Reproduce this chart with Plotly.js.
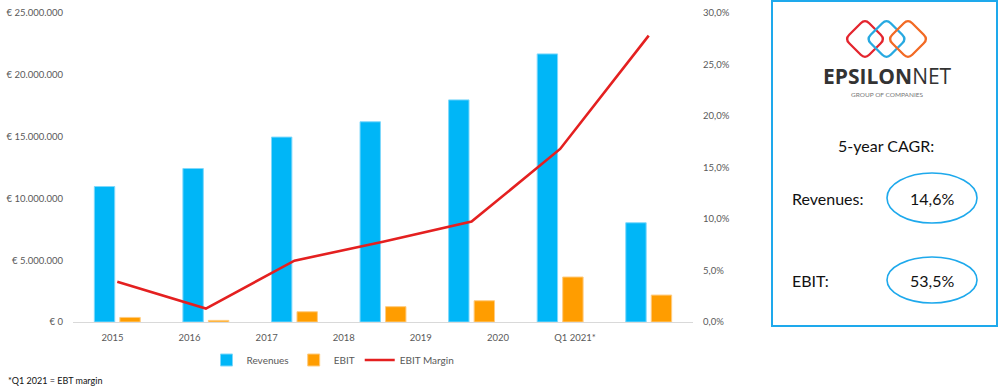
<!DOCTYPE html>
<html>
<head>
<meta charset="utf-8">
<script src="https://cdn.plot.ly/plotly-3.0.1.min.js"></script>
<style>html,body{margin:0;padding:0;background:#fff;}#chart{width:1000px;height:392px;}</style>
</head>
<body>
<div id="chart"></div>
<script>
// ---- data ----
const categories = ["2015", "2016", "2017", "2018", "2019", "2020", "Q1 2021*"];
const revenues = [10960000, 12420000, 14960000, 16200000, 17970000, 21690000, 8030000];
const ebit = [370000, 130000, 830000, 1240000, 1720000, 3640000, 2180000];
const ebitMargin = [3.9, 1.3, 5.95, 7.8, 9.75, 16.8, 27.8];
const leftTickVals = [0, 5000000, 10000000, 15000000, 20000000, 25000000];
const leftTickText = ["€ 0", "€ 5.000.000", "€ 10.000.000", "€ 15.000.000", "€ 20.000.000", "€ 25.000.000"];
const rightTickVals = [0, 5, 10, 15, 20, 25, 30];
const rightTickText = ["0,0%", "5,0%", "10,0%", "15,0%", "20,0%", "25,0%", "30,0%"];
const cagrLabels = ["Revenues:", "EBIT:"];
const cagrValues = ["14,6%", "53,5%"];

// ---- pixel helpers (plot area 73..693 x, 13..322 y) ----
const L = 73, R = 693, T = 13, B = 322;
const X = px => (px - L) / (R - L);
const Y = py => (B - py) / (B - T);

const FONT = "Lato, 'Liberation Sans', sans-serif";
const GRAY = "#595959";
const TICK = 9.5;

function diamondPath(cx, cy, h, d) {
  const v = [[cx, cy - h], [cx + h, cy], [cx, cy + h], [cx - h, cy]];
  let p = "";
  for (let i = 0; i < 4; i++) {
    const a = v[i], b = v[(i + 1) % 4], c = v[(i + 2) % 4];
    const len = Math.hypot(b[0] - a[0], b[1] - a[1]);
    const s = [a[0] + (b[0] - a[0]) * d / len, a[1] + (b[1] - a[1]) * d / len];
    const e = [b[0] - (b[0] - a[0]) * d / len, b[1] - (b[1] - a[1]) * d / len];
    const len2 = Math.hypot(c[0] - b[0], c[1] - b[1]);
    const n = [b[0] + (c[0] - b[0]) * d / len2, b[1] + (c[1] - b[1]) * d / len2];
    p += (i === 0 ? "M" : "L") + X(s[0]) + "," + Y(s[1]) + " L" + X(e[0]) + "," + Y(e[1]) +
         " Q" + X(b[0]) + "," + Y(b[1]) + " " + X(n[0]) + "," + Y(n[1]) + " ";
  }
  return p + "Z";
}

const traces = [
  {type: "bar", name: "Revenues", x: categories, y: revenues,
   marker: {color: "#00B6F7", line: {color: "#7fd8fb", width: 1}}, hoverinfo: "skip"},
  {type: "bar", name: "EBIT", x: categories, y: ebit,
   marker: {color: "#FF9D00", line: {color: "#ffcc80", width: 1}}, hoverinfo: "skip"},
  {type: "scatter", mode: "lines", name: "EBIT Margin", x: categories, y: ebitMargin, yaxis: "y2",
   line: {color: "#E42020", width: 2.6}, hoverinfo: "skip"},
  {type: "scatter", mode: "markers", x: [0, 6], y: [0, 0], xaxis: "x2", showlegend: false,
   marker: {opacity: 0}, hoverinfo: "skip"}
];

const shapes = [
  {type: "rect", xref: "paper", yref: "paper", x0: X(772), x1: X(997), y0: Y(1), y1: Y(326),
   line: {color: "#1EA9EC", width: 2}},
  {type: "path", xref: "paper", yref: "paper", path: diamondPath(865, 39, 20, 6), line: {color: "#E4252E", width: 2.3}},
  {type: "path", xref: "paper", yref: "paper", path: diamondPath(886.5, 39, 20, 6), line: {color: "#27A9E1", width: 2.3}},
  {type: "path", xref: "paper", yref: "paper", path: diamondPath(908, 39, 20, 6), line: {color: "#F26A24", width: 2.3}},
  {type: "circle", xref: "paper", yref: "paper", x0: X(887), x1: X(977), y0: Y(173), y1: Y(223),
   line: {color: "#1EA9EC", width: 1.6}},
  {type: "circle", xref: "paper", yref: "paper", x0: X(887), x1: X(977), y0: Y(257), y1: Y(303),
   line: {color: "#1EA9EC", width: 1.6}}
];

const ann = (px, py, text, size, color, xanchor, extra) => Object.assign({
  xref: "paper", yref: "paper", x: X(px), y: Y(py), text: text, showarrow: false,
  xanchor: xanchor || "center", yanchor: "middle", font: {family: FONT, size: size, color: color}
}, extra || {});

const annotations = [
  ann(887, 76, "<b>EPSILON</b>NET", 21, "#333333", "center", {font: {family: "'Open Sans', sans-serif", size: 21, color: "#333333"}}),
  ann(887, 95, "GROUP OF COMPANIES", 6.5, "#777777"),
  ann(886, 145, "5-year CAGR:", 16, "#111111"),
  ann(790, 198, cagrLabels[0], 16, "#111111", "left"),
  ann(932, 198, cagrValues[0], 16, "#111111"),
  ann(790, 280, cagrLabels[1], 16, "#111111", "left"),
  ann(932, 280, cagrValues[1], 16, "#111111"),
  ann(6, 380, "*Q1 2021 = EBT margin", 9, "#111111", "left")
];

const layout = {
  width: 1000, height: 392,
  margin: {l: L, r: 1000 - R, t: T, b: 392 - B, pad: 0},
  paper_bgcolor: "#ffffff", plot_bgcolor: "#ffffff",
  font: {family: FONT, size: TICK, color: GRAY},
  barmode: "group", bargap: 0.424, bargroupgap: 0.2,
  showlegend: true,
  legend: {orientation: "h", x: X(333), y: Y(360), xanchor: "center", yanchor: "middle",
           font: {family: FONT, size: 10, color: GRAY}, itemwidth: 30, tracegroupgap: 0},
  xaxis: {type: "category", range: [-0.5, 6.5], showline: true, linecolor: "#d9d9d9", linewidth: 1,
          showticklabels: false, ticks: "", showgrid: false, zeroline: false, fixedrange: true},
  xaxis2: {overlaying: "x", anchor: "y", side: "bottom", type: "linear", range: [-0.512, 7.531],
           tickmode: "array", tickvals: [0, 1, 2, 3, 4, 5, 6], ticktext: categories,
           showline: false, showgrid: false, zeroline: false, ticks: "", ticklabelstandoff: 8,
           tickfont: {family: FONT, size: TICK, color: GRAY}},
  yaxis: {range: [0, 25000000], tickmode: "array", tickvals: leftTickVals, ticktext: leftTickText,
          showgrid: false, zeroline: false, showline: false, ticks: "", ticklabelstandoff: 9,
          tickfont: {family: FONT, size: TICK, color: GRAY}},
  yaxis2: {overlaying: "y", side: "right", range: [0, 30], tickmode: "array", tickvals: rightTickVals,
           ticktext: rightTickText, showgrid: false, zeroline: false, showline: false, ticks: "",
           ticklabelstandoff: 9, tickfont: {family: FONT, size: TICK, color: GRAY}},
  shapes: shapes,
  annotations: annotations
};

Plotly.newPlot("chart", traces, layout, {staticPlot: true, displayModeBar: false});
</script>
</body>
</html>
